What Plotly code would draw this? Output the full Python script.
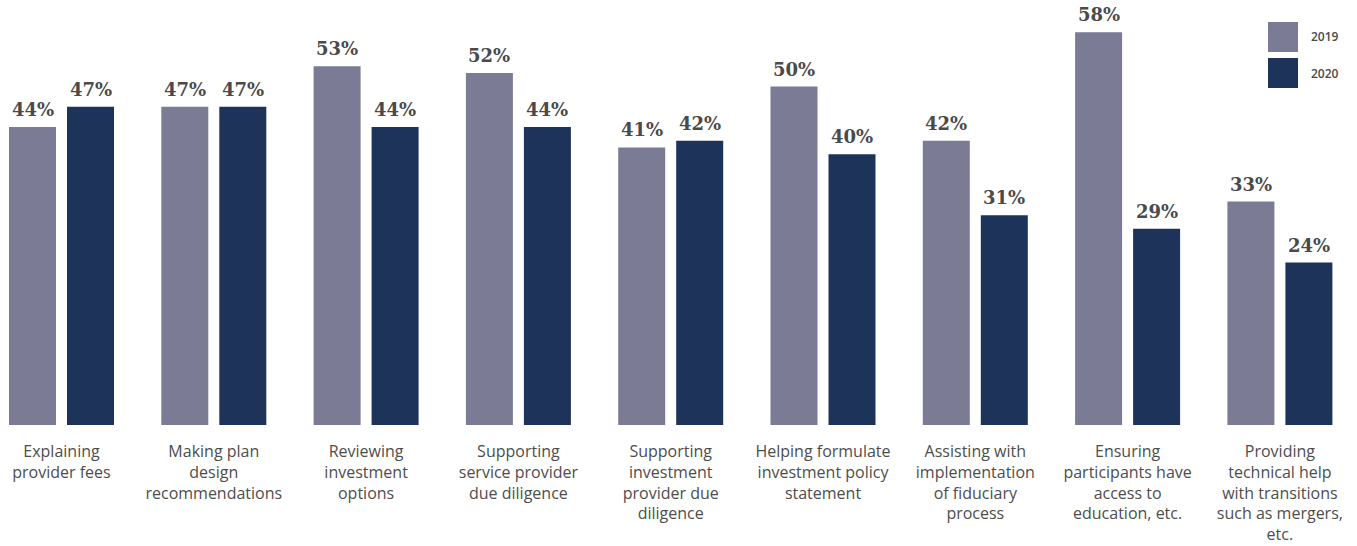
import plotly.graph_objects as go

categories = [
    "Explaining<br>provider fees",
    "Making plan<br>design<br>recommendations",
    "Reviewing<br>investment<br>options",
    "Supporting<br>service provider<br>due diligence",
    "Supporting<br>investment<br>provider due<br>diligence",
    "Helping formulate<br>investment policy<br>statement",
    "Assisting with<br>implementation<br>of fiduciary<br>process",
    "Ensuring<br>participants have<br>access to<br>education, etc.",
    "Providing<br>technical help<br>with transitions<br>such as mergers,<br>etc.",
]
values_2019 = [44, 47, 53, 52, 41, 50, 42, 58, 33]
values_2020 = [47, 47, 44, 44, 42, 40, 31, 29, 24]
series_names = ["2019", "2020"]
series_colors = ["#7b7b96", "#1d3359"]

W, H = 1357, 546
PLOT_H = 425
STEP = 152.3                      # pixels per category
BAR_W = 47 / STEP                 # bar width in category units
GAP = 11 / STEP                   # gap between the two bars of a group
offsets = [-(BAR_W + GAP / 2), GAP / 2]

xs = list(range(len(categories)))
fig = go.Figure()
for name, vals, color, off in zip(series_names, [values_2019, values_2020],
                                  series_colors, offsets):
    fig.add_trace(go.Bar(
        name=name, x=xs, y=vals,
        width=BAR_W, offset=off,
        marker=dict(color=color, line=dict(width=0)),
        showlegend=False,
    ))
    for x, v in zip(xs, vals):
        fig.add_annotation(
            x=x + off + BAR_W / 2, y=v, xref="x", yref="y",
            text=f"{v}%", showarrow=False,
            xanchor="center", yanchor="bottom", yshift=5,
            font=dict(family="DejaVu Serif", size=18, color="#4a4a4a", weight="bold"),
        )

# legend drawn as large swatches at the top right
for i, (name, color) in enumerate(zip(series_names, series_colors)):
    y0 = 22 + i * 36
    fig.add_shape(type="rect", xref="paper", yref="paper",
                  x0=1268 / W, x1=1298 / W,
                  y0=1 - (y0 + 30) / PLOT_H, y1=1 - y0 / PLOT_H,
                  fillcolor=color, line=dict(width=0))
    fig.add_annotation(xref="paper", yref="paper", x=1309 / W, y=1 - (y0 + 15) / PLOT_H,
                       text=name, showarrow=False, xanchor="left", yanchor="middle",
                       font=dict(family="Open Sans", size=12, color="#4a4a4a", weight=600))

fig.update_layout(
    width=W, height=H,
    margin=dict(l=0, r=0, t=0, b=H - PLOT_H, pad=0),
    plot_bgcolor="white", paper_bgcolor="white",
    barmode="overlay",
    xaxis=dict(
        tickmode="array", tickvals=xs, ticktext=categories,
        range=[-61.5 / STEP, (W - 61.5) / STEP],
        showgrid=False, zeroline=False, showline=False, ticks="",
        tickfont=dict(family="Open Sans", size=16, color="#4d4d4d"),
        tickangle=0, ticklabelstandoff=15,
    ),
    yaxis=dict(range=[0, PLOT_H / 6.77], visible=False, showgrid=False, zeroline=False),
)

fig.write_html("out.html")
